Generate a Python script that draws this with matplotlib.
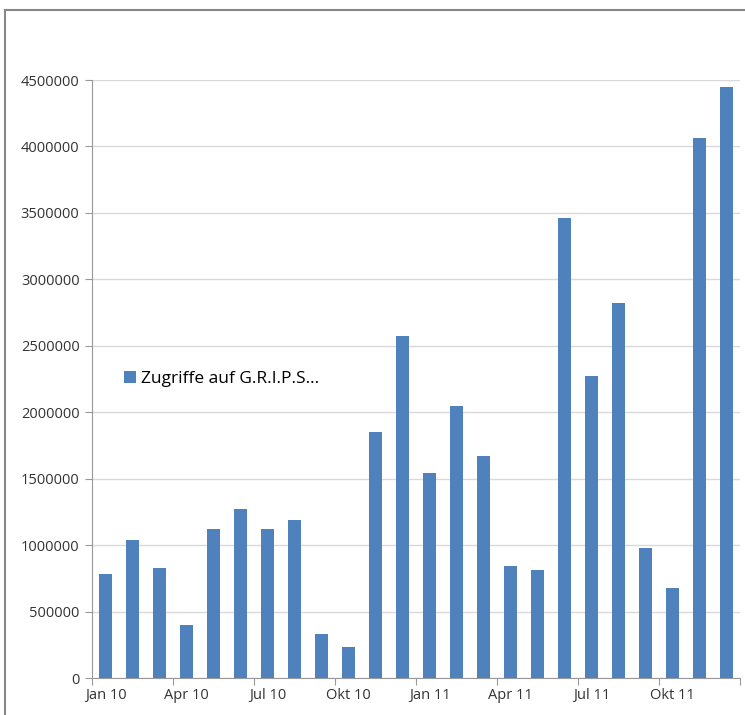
import numpy as np
import matplotlib
matplotlib.use('Agg')
import matplotlib.pyplot as plt
from matplotlib.patches import Rectangle

plt.rcParams['font.family'] = ['Liberation Sans Narrow', 'Open Sans', 'DejaVu Sans']

# Daten: Zugriffe pro Monat (Jan 10 bis Dez 11)
monate = ['Jan 10', 'Feb 10', 'Mrz 10', 'Apr 10', 'Mai 10', 'Jun 10',
          'Jul 10', 'Aug 10', 'Sep 10', 'Okt 10', 'Nov 10', 'Dez 10',
          'Jan 11', 'Feb 11', 'Mrz 11', 'Apr 11', 'Mai 11', 'Jun 11',
          'Jul 11', 'Aug 11', 'Sep 11', 'Okt 11', 'Nov 11', 'Dez 11']
zugriffe = [780000, 1040000, 830000, 400000, 1120000, 1270000,
            1120000, 1190000, 330000, 230000, 1850000, 2570000,
            1540000, 2050000, 1670000, 840000, 810000, 3460000,
            2270000, 2820000, 980000, 680000, 4060000, 4450000]
y_ticks = [0, 500000, 1000000, 1500000, 2000000, 2500000, 3000000, 3500000, 4000000, 4500000]
legende = 'Zugriffe auf G.R.I.P.S\u2026'

fig = plt.figure(figsize=(7.45, 7.15), dpi=100)
ax = fig.add_axes([92 / 745, 1 - 678 / 715, 648 / 745, 598 / 715])

x = np.arange(len(monate))
ax.bar(x, zugriffe, width=0.45, color='#4F81BD', label=legende, zorder=3)

ax.set_xlim(-0.5, len(monate) - 0.5)
ax.set_ylim(0, 4500000)
ax.set_yticks(y_ticks)
ax.set_yticklabels([str(v) for v in y_ticks])
ax.grid(axis='y', color='#d9d9d9', linewidth=1, zorder=0)

# Grenz-Ticks alle 3 Monate, Beschriftung in der Mitte
ax.set_xticks(np.arange(-0.5, len(monate), 3))
ax.set_xticklabels([])
ax.set_xticks(x[::3], minor=True)
ax.set_xticklabels([monate[i] for i in x[::3]], minor=True)
ax.tick_params(axis='x', which='major', length=5, color='#999999')
ax.tick_params(axis='x', which='minor', length=0, pad=7, labelsize=10.5, labelcolor='#333333')
ax.tick_params(axis='y', length=5, color='#999999', labelsize=10.5, labelcolor='#333333', pad=4)

for s in ['top', 'right']:
    ax.spines[s].set_visible(False)
for s in ['left', 'bottom']:
    ax.spines[s].set_color('#999999')

ax.legend(loc='center left', bbox_to_anchor=(0.025, 0.5), frameon=False,
          handlelength=0.7, handleheight=0.7, handletextpad=0.3, fontsize=12.5)

# Rahmen um das Diagramm
fig.patches.append(Rectangle((5 / 745, -0.1), 1.1, 1 - 10 / 715 + 0.1,
                             transform=fig.transFigure, fill=False,
                             edgecolor='#888888', linewidth=1.5))

plt.savefig('out.png', dpi=100)
